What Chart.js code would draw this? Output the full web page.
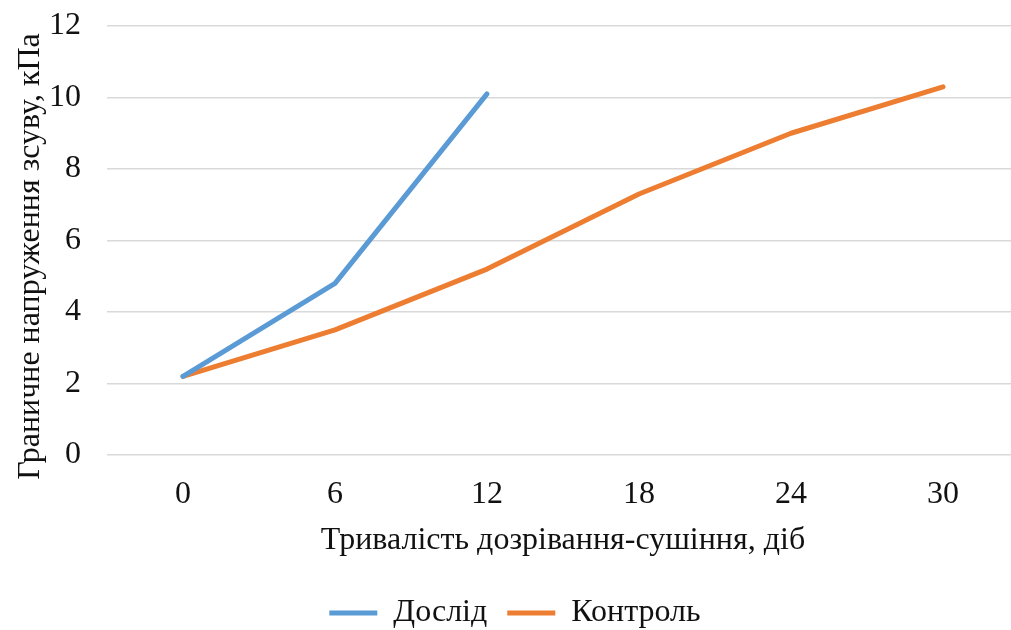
<!DOCTYPE html>
<html>
<head>
<meta charset="utf-8">
<script src="https://cdn.jsdelivr.net/npm/chart.js@4/dist/chart.umd.min.js"></script>
<style>
  html, body { margin: 0; padding: 0; background: #fff; overflow: hidden; }
  canvas { display: block; }
</style>
</head>
<body>
<canvas id="shearChart" width="1020" height="630"></canvas>
<script>
// дані з графіка
var days = ["0", "6", "12", "18", "24", "30"];
var doslid = [2.2, 4.8, 10.1];
var kontrol = [2.2, 3.5, 5.2, 7.3, 9.0, 10.3];
var yTicks = [0, 2, 4, 6, 8, 10, 12];

var serif = "'Liberation Serif', 'Times New Roman', serif";
Chart.defaults.font.family = serif;
Chart.defaults.color = "#111";

var ctx = document.getElementById("shearChart").getContext('2d');
var myLineChart = new Chart(ctx, {
    type: 'line',
    data: {
        labels: days,
        datasets: [
            {
                label: "Дослід",
                data: doslid,
                borderColor: "#5B9BD5",
                backgroundColor: "#5B9BD5",
                borderWidth: 5,
                pointRadius: 0,
                tension: 0,
                borderCapStyle: 'round',
                borderJoinStyle: 'round'
            },
            {
                label: "Контроль",
                data: kontrol,
                borderColor: "#ED7D31",
                backgroundColor: "#ED7D31",
                borderWidth: 5,
                pointRadius: 0,
                tension: 0,
                borderCapStyle: 'round',
                borderJoinStyle: 'round'
            }
        ]
    },
    options: {
        responsive: false,
        animation: false,
        devicePixelRatio: 1,
        layout: { padding: { left: 11, right: 1, top: 26, bottom: -9 } },
        plugins: {
            tooltip: { enabled: false },
            legend: {
                position: 'bottom',
                labels: {
                    font: { size: 32 },
                    color: "#111",
                    boxWidth: 48,
                    boxHeight: 5,
                    padding: 20,
                    generateLabels: function(chart) {
                        var items = Chart.defaults.plugins.legend.labels.generateLabels(chart);
                        items.forEach(function(it) { it.lineWidth = 0; });
                        return items;
                    }
                }
            }
        },
        scales: {
            x: {
                offset: true,
                grid: { display: false, drawTicks: false },
                border: { display: false },
                ticks: { font: { size: 32 }, padding: 20, color: "#111" },
                title: {
                    display: true,
                    text: "Тривалість дозрівання-сушіння, діб",
                    font: { size: 32 },
                    color: "#111",
                    padding: { top: 8, bottom: 17 }
                },
                afterFit: function(scale) { scale.height = 122; }
            },
            y: {
                min: 0,
                max: 12,
                afterBuildTicks: function(scale) {
                    scale.ticks = yTicks.map(function(v) { return { value: v }; });
                },
                grid: { color: "#d9d9d9", lineWidth: 1.5, drawTicks: false },
                border: { display: false },
                ticks: { font: { size: 32 }, padding: 26, color: "#111" },
                title: {
                    display: true,
                    // trailing spaces push the rotated title down a bit, like in the original
                    text: "Граничне напруження зсуву, кПа\u00A0\u00A0\u00A0\u00A0",
                    font: { size: 32 },
                    color: "#111",
                    padding: { top: 0, bottom: 0 }
                },
                afterFit: function(scale) {
                    scale.width = 96;
                    scale.paddingTop = 0;
                    scale.paddingBottom = 0;
                }
            }
        }
    }
});
</script>
</body>
</html>
